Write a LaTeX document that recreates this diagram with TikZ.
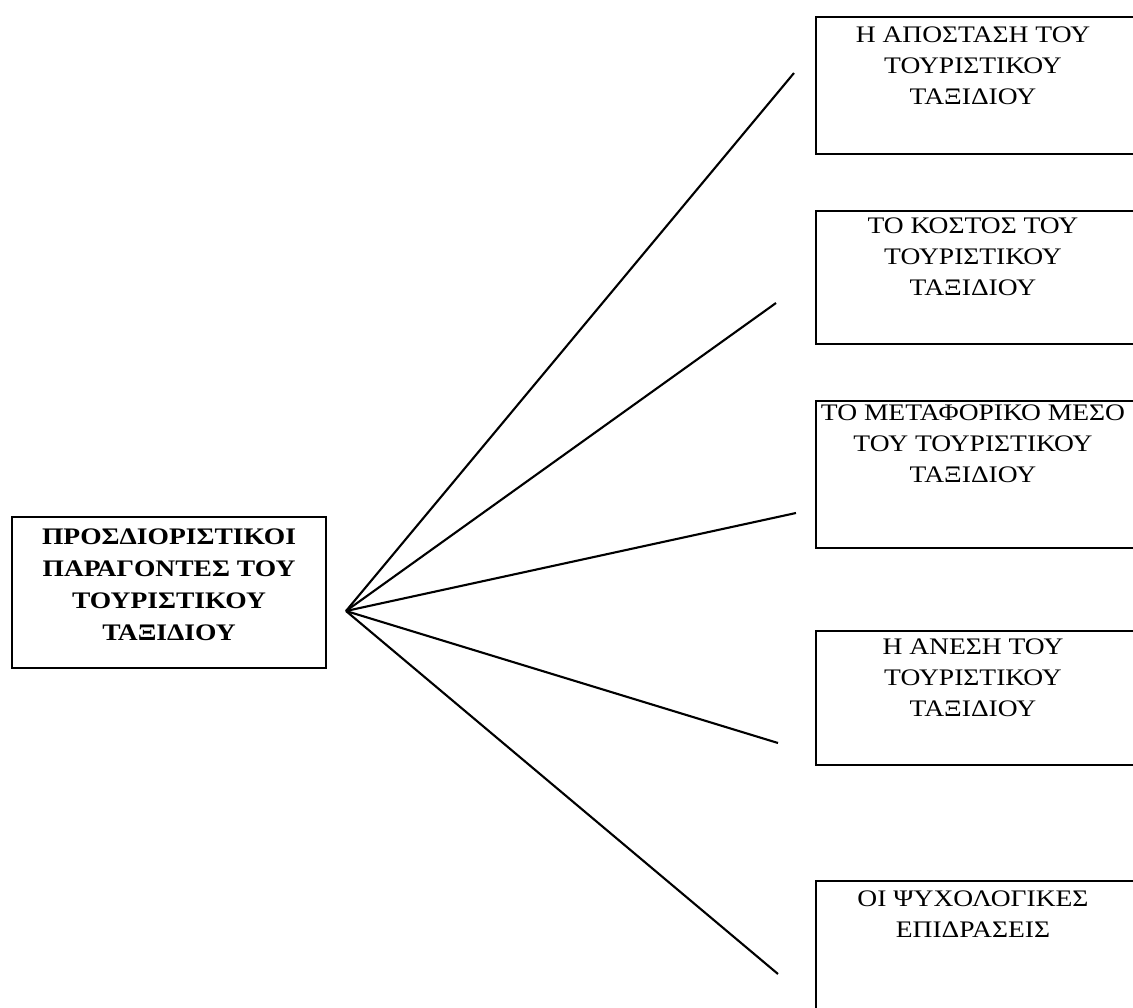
\documentclass[tikz,border=0pt]{standalone}
\usepackage{fontspec}
\setmainfont[FakeStretch=1.16]{Liberation Serif}
\usetikzlibrary{positioning}

\begin{document}
\begin{tikzpicture}[scale=0.2,
	box/.style={draw=black, line width=1.6pt, minimum width=6.4cm, inner sep=0pt},
	boxtext/.style={align=center, inner sep=0pt, font=\fontsize{13.5}{17.6}\selectfont},
	link/.style={black, line width=1.2pt}]
	\useasboundingbox (0,0) rectangle (113.3,-100.7);
	\node [box, minimum width=6.28cm, minimum height=3.02cm] (factors) at (16.9,-59.25) {};
	\node [boxtext, font=\bfseries\fontsize{13.5}{18.1}\selectfont, below=0.26cm of factors.north] (factorstext) {ΠΡΟΣΔΙΟΡΙΣΤΙΚΟΙ\\ΠΑΡΑΓΟΝΤΕΣ ΤΟΥ\\ΤΟΥΡΙΣΤΙΚΟΥ\\ΤΑΞΙΔΙΟΥ};
	\node [box, minimum height=2.74cm] (distance) at (97.6,-8.55) {};
	\node [boxtext, below=0.22cm of distance.north, xshift=-0.06cm] (distancetext) {Η ΑΠΟΣΤΑΣΗ ΤΟΥ\\ΤΟΥΡΙΣΤΙΚΟΥ\\ΤΑΞΙΔΙΟΥ};
	\node [box, minimum height=2.66cm] (cost) at (97.6,-27.75) {};
	\node [boxtext, below=0.15cm of cost.north, xshift=-0.06cm] (costtext) {ΤΟ ΚΟΣΤΟΣ ΤΟΥ\\ΤΟΥΡΙΣΤΙΚΟΥ\\ΤΑΞΙΔΙΟΥ};
	\node [box, minimum height=2.94cm] (transport) at (97.6,-47.45) {};
	\node [boxtext, below=0.1cm of transport.north, xshift=-0.06cm] (transporttext) {ΤΟ ΜΕΤΑΦΟΡΙΚΟ ΜΕΣΟ\\ΤΟΥ ΤΟΥΡΙΣΤΙΚΟΥ\\ΤΑΞΙΔΙΟΥ};
	\node [box, minimum height=2.68cm] (comfort) at (97.6,-69.8) {};
	\node [boxtext, below=0.18cm of comfort.north, xshift=-0.06cm] (comforttext) {Η ΑΝΕΣΗ ΤΟΥ\\ΤΟΥΡΙΣΤΙΚΟΥ\\ΤΑΞΙΔΙΟΥ};
	\node [box, minimum height=2.68cm] (psychology) at (97.6,-94.8) {};
	\node [boxtext, below=0.22cm of psychology.north, xshift=-0.06cm] (psychologytext) {ΟΙ ΨΥΧΟΛΟΓΙΚΕΣ\\ΕΠΙΔΡΑΣΕΙΣ};
	\coordinate (hub) at (34.6,-61.1);
	\coordinate (e1) at (79.4,-7.3);
	\coordinate (e2) at (77.6,-30.3);
	\coordinate (e3) at (79.6,-51.3);
	\coordinate (e4) at (77.8,-74.3);
	\coordinate (e5) at (77.8,-97.4);
	\draw [link] (hub) -- (e1);
	\draw [link] (hub) -- (e2);
	\draw [link] (hub) -- (e3);
	\draw [link] (hub) -- (e4);
	\draw [link] (hub) -- (e5);
\end{tikzpicture}
\end{document}
